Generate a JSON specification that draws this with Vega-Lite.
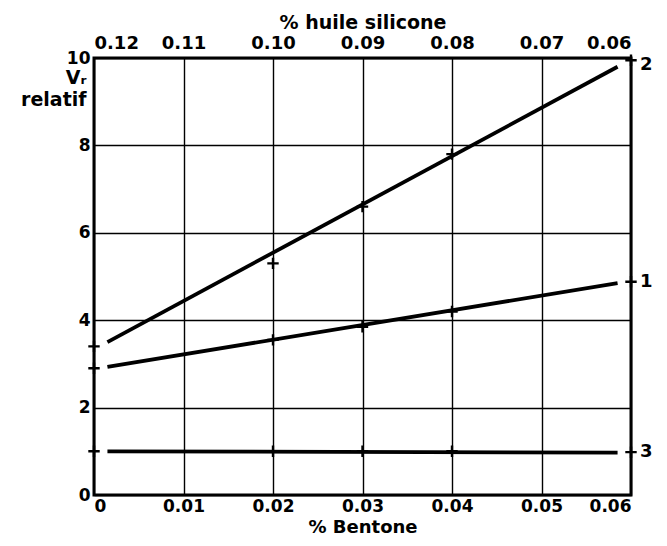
{
  "$schema": "https://vega.github.io/schema/vega-lite/v6.json",
  "width": 537,
  "height": 437,
  "autosize": {"type": "none"},
  "padding": {"left": 94, "top": 58, "right": 36, "bottom": 51},
  "background": "white",
  "config": {
    "view": {"stroke": "black", "strokeWidth": 3},
    "font": "DejaVu Sans",
    "axis": {
      "labelFont": "DejaVu Sans",
      "labelFontSize": 18,
      "labelFontWeight": "bold",
      "labelColor": "black",
      "titleFont": "DejaVu Sans",
      "titleFontSize": 19,
      "titleFontWeight": "bold",
      "titleColor": "black",
      "domain": false,
      "ticks": false,
      "gridColor": "black",
      "gridOpacity": 1,
      "gridWidth": 1.4
    }
  },
  "datasets": {
    "points": [
      {"bentone": 0, "vr": 3.4, "courbe": "2"},
      {"bentone": 0.02, "vr": 5.3, "courbe": "2"},
      {"bentone": 0.03, "vr": 6.6, "courbe": "2"},
      {"bentone": 0.04, "vr": 7.8, "courbe": "2"},
      {"bentone": 0.06, "vr": 9.95, "courbe": "2"},
      {"bentone": 0, "vr": 2.9, "courbe": "1"},
      {"bentone": 0.02, "vr": 3.55, "courbe": "1"},
      {"bentone": 0.03, "vr": 3.85, "courbe": "1"},
      {"bentone": 0.04, "vr": 4.2, "courbe": "1"},
      {"bentone": 0.06, "vr": 4.88, "courbe": "1"},
      {"bentone": 0, "vr": 1.0, "courbe": "3"},
      {"bentone": 0.02, "vr": 1.0, "courbe": "3"},
      {"bentone": 0.03, "vr": 1.0, "courbe": "3"},
      {"bentone": 0.04, "vr": 1.0, "courbe": "3"},
      {"bentone": 0.06, "vr": 0.98, "courbe": "3"}
    ],
    "fits": [
      {"bentone": 0.0015, "vr": 3.5, "courbe": "2"},
      {"bentone": 0.0585, "vr": 9.8, "courbe": "2"},
      {"bentone": 0.0015, "vr": 2.93, "courbe": "1"},
      {"bentone": 0.0585, "vr": 4.85, "courbe": "1"},
      {"bentone": 0.0015, "vr": 1.0, "courbe": "3"},
      {"bentone": 0.0585, "vr": 0.97, "courbe": "3"}
    ],
    "labels": [
      {"bentone": 0.06, "vr": 9.85, "courbe": "2"},
      {"bentone": 0.06, "vr": 4.88, "courbe": "1"},
      {"bentone": 0.06, "vr": 0.98, "courbe": "3"}
    ]
  },
  "layer": [
    {
      "data": {"name": "fits"},
      "mark": {"type": "line", "color": "black", "strokeWidth": 3.8},
      "encoding": {
        "x": {
          "field": "bentone", "type": "quantitative",
          "scale": {"domain": [0, 0.06], "nice": false, "zero": false},
          "axis": {
            "orient": "bottom",
            "values": [0, 0.01, 0.02, 0.03, 0.04, 0.05, 0.06],
            "labelExpr": "datum.value == 0 ? '0' : format(datum.value, '.2f')",
            "grid": true,
            "labelPadding": 3,
            "labelFontSize": 17,
            "title": "% Bentone",
            "titleFontSize": 18,
            "titlePadding": 4
          }
        },
        "y": {
          "field": "vr", "type": "quantitative",
          "scale": {"domain": [0, 10], "nice": false},
          "axis": {
            "values": [0, 2, 4, 6, 8, 10],
            "grid": true,
            "labelPadding": 4,
            "labelFontSize": 17,
            "title": ["Vᵣ", "relatif"],
            "titleAngle": 0,
            "titleAlign": "right",
            "titleBaseline": "top",
            "titleFontSize": 19,
            "titleX": -8,
            "titleY": 10,
            "titleLineHeight": 22
          }
        },
        "detail": {"field": "courbe"}
      }
    },
    {
      "data": {"name": "points"},
      "mark": {"type": "point", "shape": "M-1,0L1,0M0,-1L0,1", "size": 130, "filled": false, "stroke": "black", "strokeWidth": 2.4, "opacity": 1},
      "encoding": {
        "x": {
          "field": "bentone", "type": "quantitative",
          "axis": {
            "orient": "top",
            "values": [0, 0.01, 0.02, 0.03, 0.04, 0.05, 0.06],
            "labelExpr": "format(0.12 - datum.value, '.2f')",
            "grid": false,
            "labelPadding": 6,
            "title": "% huile silicone",
            "titlePadding": 2
          }
        },
        "y": {"field": "vr", "type": "quantitative"}
      }
    },
    {
      "data": {"name": "labels"},
      "mark": {"type": "text", "align": "left", "baseline": "middle", "dx": 9, "fontSize": 18, "fontWeight": "bold", "font": "DejaVu Sans", "color": "black"},
      "encoding": {
        "x": {"field": "bentone", "type": "quantitative", "axis": null},
        "y": {"field": "vr", "type": "quantitative"},
        "text": {"field": "courbe"}
      }
    }
  ]
}
